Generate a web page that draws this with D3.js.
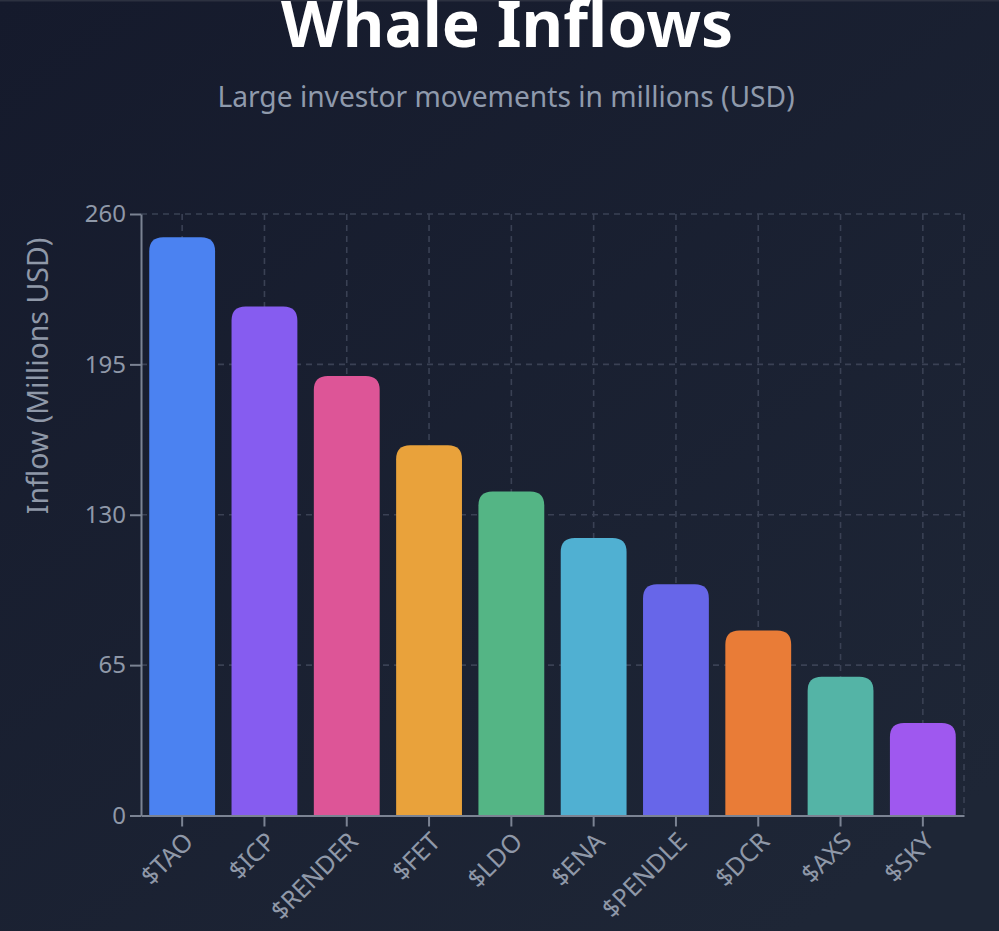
<!DOCTYPE html>
<html><head><meta charset="utf-8">
<script src="https://cdn.jsdelivr.net/npm/d3@7"></script>
<style>html,body{margin:0;padding:0;overflow:hidden;background:#171c2e}svg{display:block}
text{font-family:"Noto Sans","Open Sans",sans-serif}</style></head>
<body><svg id="c" width="999" height="931"></svg>
<script>
const categories=["$TAO","$ICP","$RENDER","$FET","$LDO","$ENA","$PENDLE","$DCR","$AXS","$SKY"];
const values=[250,220,190,160,140,120,100,80,60,40];
const colors=["#4b82f1","#865cf0","#dd5597","#e9a23b","#54b585","#50b0d2","#6766e9","#e97c37","#54b4a6","#9f58ef"];
const yTicks=[0,65,130,195,260];
const W=999,H=931,L=141,R=964,T=214,B=815.5;
const svg=d3.select("#c");
const defs=svg.append("defs");
const g=defs.append("linearGradient").attr("id","bg").attr("x1",0).attr("y1",0).attr("x2",0.8).attr("y2",1);
g.append("stop").attr("offset",0).attr("stop-color","#151a2c");
g.append("stop").attr("offset",1).attr("stop-color","#1e2636");
svg.append("rect").attr("width",W).attr("height",H).attr("fill","url(#bg)");
svg.append("rect").attr("width",W).attr("height",1.5).attr("fill","#2c3140");
const x=d3.scaleBand().domain(categories).range([L,R]).paddingInner(0.2).paddingOuter(0.1);
const y=d3.scaleLinear().domain([0,260]).range([B,T]);
const grid=svg.append("g").attr("stroke","#3a4154").attr("stroke-width",1.6).attr("stroke-dasharray","6 5").attr("fill","none");
grid.selectAll("line.h").data(yTicks.filter(d=>d>0)).join("line").attr("class","h")
 .attr("x1",L).attr("x2",R).attr("y1",d=>y(d)).attr("y2",d=>y(d));
grid.selectAll("line.v").data(categories).join("line").attr("class","v")
 .attr("x1",d=>x(d)+x.bandwidth()/2).attr("x2",d=>x(d)+x.bandwidth()/2).attr("y1",T).attr("y2",B);
grid.append("line").attr("x1",R).attr("x2",R).attr("y1",T).attr("y2",B);
const r=14;
svg.append("g").selectAll("path").data(categories).join("path")
 .attr("fill",(d,i)=>colors[i])
 .attr("d",(d,i)=>{const a=x(d),b=a+x.bandwidth(),t=y(values[i]),z=y(0);
  return `M${a},${z}V${t+r}Q${a},${t} ${a+r},${t}H${b-r}Q${b},${t} ${b},${t+r}V${z}Z`;});
const ax=svg.append("g").attr("transform",`translate(0,${B})`).call(d3.axisBottom(x).tickSize(11).tickSizeOuter(0).tickPadding(5));
ax.selectAll("text").attr("fill","#8f98a8").attr("font-size",25).attr("text-anchor","end")
 .attr("dx","-0.42em").attr("dy","0.5em").attr("transform","rotate(-45)");
const ay=svg.append("g").attr("transform",`translate(${L},0)`).call(d3.axisLeft(y).tickValues(yTicks).tickSize(11).tickSizeOuter(0).tickPadding(4));
ay.selectAll("text").attr("fill","#8f98a8").attr("font-size",24);
[ax,ay].forEach(a=>{a.selectAll("line,path").attr("stroke","#7b8393").attr("stroke-width",2);});
svg.append("text").attr("x",507).attr("y",47).attr("text-anchor","middle").attr("fill","#fff")
 .attr("font-size",64).attr("font-weight",700).text("Whale Inflows");
svg.append("text").attr("x",506).attr("y",107).attr("text-anchor","middle").attr("fill","#8f9aac")
 .attr("font-size",28.2).text("Large investor movements in millions (USD)");
svg.append("text").attr("transform","translate(48,376) rotate(-90)").attr("text-anchor","middle").attr("fill","#8f98a8")
 .attr("font-size",28.5).text("Inflow (Millions USD)");
</script></body></html>
